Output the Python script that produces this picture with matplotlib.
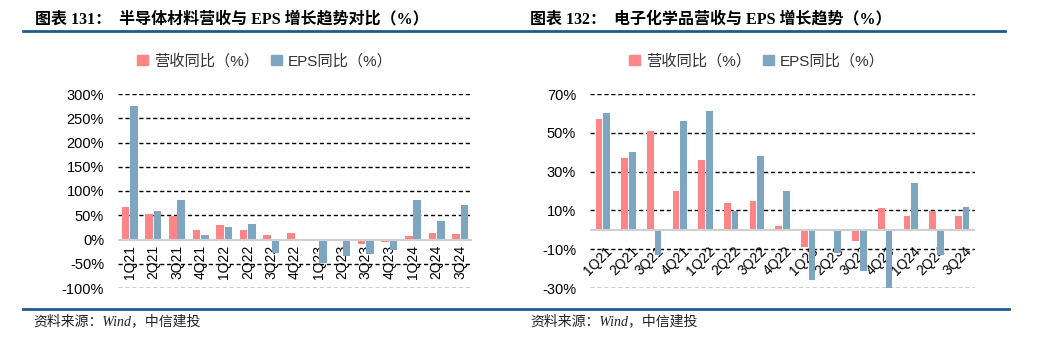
import numpy as np
import matplotlib
matplotlib.use("Agg")
import matplotlib.pyplot as plt
from matplotlib.lines import Line2D
from matplotlib.patches import Patch

plt.rcParams['font.family'] = ['Liberation Sans', 'Noto Sans CJK SC', 'DejaVu Sans']

quarters = ["1Q21", "2Q21", "3Q21", "4Q21", "1Q22", "2Q22", "3Q22", "4Q22",
            "1Q23", "2Q23", "3Q23", "4Q23", "1Q24", "2Q24", "3Q24"]

# 图表131 半导体材料 (%)
semi_rev = [67, 52, 48, 19, 30, 19, 9, 13, -2, -2, -10, -5, 7, 14, 12]
semi_eps = [275, 59, 82, 9, 26, 31, -27, -2, -48, -34, -29, -21, 82, 39, 72]
semi_ticks = [-100, -50, 0, 50, 100, 150, 200, 250, 300]

# 图表132 电子化学品 (%)
chem_rev = [57, 37, 51, 20, 36, 14, 15, 2, -9, 0, -6, 11, 7, 9.5, 7]
chem_eps = [60, 40, -13, 56, 61, 9.5, 38, 20, -26, -12, -21, -30, 24, -13, 12]
chem_ticks = [-30, -10, 10, 30, 50, 70]

rev_label = "营收同比（%）"
eps_label = "EPS同比（%）"
titles = ["图表 131：  半导体材料营收与 EPS 增长趋势对比（%）",
          "图表 132：  电子化学品营收与 EPS 增长趋势（%）"]
source = "资料来源：Wind，中信建投"

PINK = "#ff8587"
BLUE = "#7ea6c1"
RULE = "#1f5a8c"

W, H = 1054, 344
fig = plt.figure(figsize=(W / 100, H / 100), dpi=100)


def px(x0, y0, x1, y1):
    return [x0 / W, 1 - y1 / H, (x1 - x0) / W, (y1 - y0) / H]


def draw_panel(rect, rev, eps, ticks, bw, off, rot):
    ax = fig.add_axes(rect)
    x = np.arange(len(quarters))
    ax.bar(x - off, rev, bw, color=PINK, zorder=3)
    ax.bar(x + off, eps, bw, color=BLUE, zorder=3)
    ax.set_xlim(-0.5, len(quarters) - 0.5)
    ax.set_ylim(ticks[0], ticks[-1])
    ax.set_yticks(ticks)
    ax.set_yticklabels([f"{t}%" for t in ticks], fontsize=10.5)
    ax.tick_params(axis="y", length=0, pad=10)
    ax.set_xticks([])
    for s in ax.spines.values():
        s.set_visible(False)
    for t in ticks:
        if t != 0:
            ax.axhline(t, color="black", lw=1, ls=(0, (3, 2)), zorder=1)
    ax.axhline(0, color="#d0d0d0", lw=1.5, zorder=4)
    for i, q in enumerate(quarters):
        if rot == 90:
            ax.annotate(q, (i, 0), xytext=(0, -4), textcoords="offset points",
                        rotation=90, ha="center", va="top", fontsize=10, zorder=2)
        else:
            ax.annotate(q, (i + 0.1, 0), xytext=(0, -10), textcoords="offset points",
                        rotation=45, rotation_mode="anchor", ha="right", va="top",
                        fontsize=10, zorder=2)
    return ax


draw_panel(px(118, 94, 472, 288), semi_rev, semi_eps, semi_ticks, 0.32, 0.18, 90)
draw_panel(px(590, 94, 975, 288), chem_rev, chem_eps, chem_ticks, 0.27, 0.15, 45)

handles = [Patch(color=PINK), Patch(color=BLUE)]
for cx in (265, 757):
    fig.legend(handles, [rev_label, eps_label], loc="center",
               bbox_to_anchor=(cx / W, 1 - 61 / H), ncol=2, frameon=False,
               fontsize=11, handlelength=0.7, handleheight=0.7,
               handletextpad=0.4, columnspacing=0.8, labelcolor="#333333")

title_font = ['Liberation Serif', 'Noto Sans CJK SC']
fig.text(35 / W, 1 - 19 / H, titles[0], fontsize=11.5, fontweight="bold",
         family=title_font, va="center", ha="left")
fig.text(530 / W, 1 - 19 / H, titles[1], fontsize=11.5, fontweight="bold",
         family=title_font, va="center", ha="left")

fig.add_artist(Line2D([23 / W, 1005 / W], [1 - 31 / H] * 2, color=RULE, lw=2))
fig.add_artist(Line2D([23 / W, 1009 / W], [1 - 309 / H] * 2, color=RULE, lw=2))

for sx in (33, 530):
    fig.text(sx / W, 1 - 321 / H, source, fontsize=10, style="italic",
             family=title_font, va="center", ha="left", color="#222222")

fig.savefig("out.png", dpi=100)
